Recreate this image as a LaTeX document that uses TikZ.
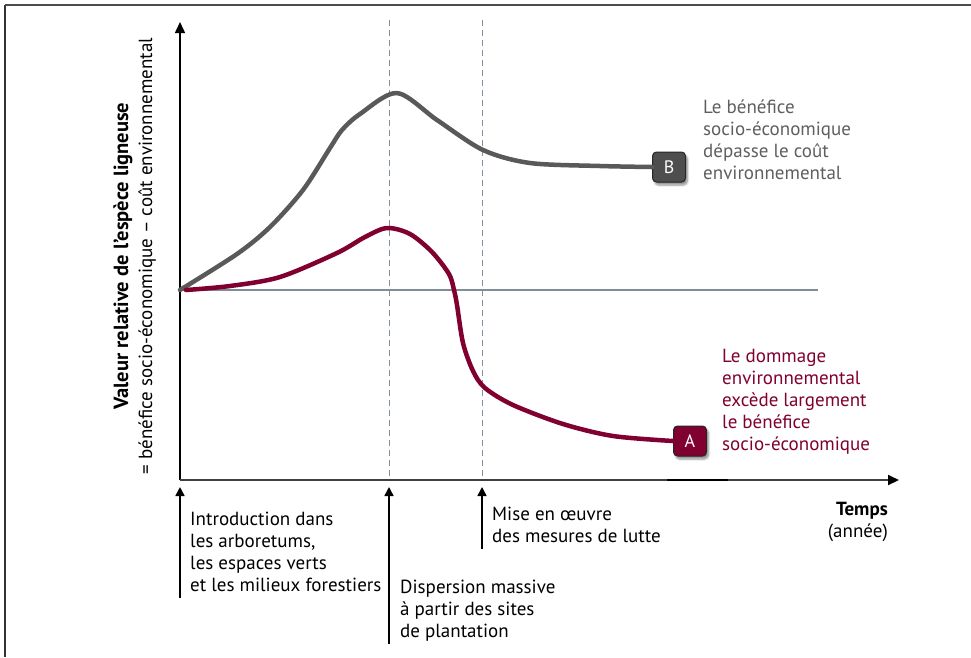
\documentclass[tikz,border=0pt]{standalone}
\usepackage{fontspec}
\setmainfont{PT Sans}
\usetikzlibrary{arrows.meta,shadows.blur}
\definecolor{curvegray}{RGB}{88,89,88}
\definecolor{curvered}{RGB}{128,0,48}
\definecolor{basegray}{RGB}{128,140,150}
\definecolor{dashgray}{RGB}{130,145,160}
\definecolor{textgray}{RGB}{95,95,95}
\definecolor{boxgray}{RGB}{78,78,78}
\tikzset{
  lbl/.style={font=\fontsize{19}{22}\selectfont, align=left, inner sep=0pt},
  letterbox/.style={draw=black!85, line width=1pt, rounded corners=4pt, minimum width=33pt, minimum height=30pt,
    text=white, font=\fontsize{18}{18}\selectfont, blur shadow={shadow xshift=2pt, shadow yshift=-3pt, shadow blur steps=6, shadow opacity=45}},
  eventarrow/.style={line width=1.6pt, -{Triangle[length=9pt,width=9pt]}},
  curve/.style={line width=4.5pt, line cap=round, line join=round},
}
\begin{document}
\begin{tikzpicture}[x=1pt,y=-1pt]
\useasboundingbox (0,0) rectangle (971,657);
% frame
\draw[black!80, line width=2pt] (5,657) -- (5,5);
\draw[black!70, line width=2pt] (5,5) -- (971,5);
% coordinates
\coordinate (O) at (180,480);
\coordinate (Ytop) at (180,22);
\coordinate (Xend) at (899,480);
\coordinate (S) at (180,290);
\coordinate (Send) at (818,290);
\coordinate (D1t) at (389,20);
\coordinate (D1b) at (389,480);
\coordinate (D2t) at (482,20);
\coordinate (D2b) at (482,480);
% dashed lines
\draw[dashgray, line width=1pt, dash pattern=on 6pt off 4pt] (D1t) -- (D1b);
\draw[dashgray, line width=1pt, dash pattern=on 6pt off 4pt] (D2t) -- (D2b);
% baseline
\draw[basegray, line width=2.5pt] (S) -- (Send);
% axes
\draw[black, line width=1.5pt, -{Triangle[length=11pt,width=10pt]}] (O) -- (Ytop);
\draw[black!75, line width=2pt, -{Triangle[length=11pt,width=10pt,black]}] (O) -- (Xend);
\coordinate (K1) at (667,480);
\coordinate (K2) at (728,480);
\draw[black, line width=2.5pt] (K1) -- (K2);
% boxes
\node[letterbox, fill=boxgray] (B) at (669,167) {B};
\node[letterbox, fill=curvered] (A) at (690,441) {A};
% curves
\draw[curve, curvegray] plot[smooth, tension=0.5] coordinates {(S) (237,254) (270,227) (303,190) (330,148) (342,130) (360,114) (397,93) (437,120) (483,150) (530,163) (600,166) (B.west)};
\draw[curve, curvered] plot[smooth, tension=0.5] coordinates {(186,290) (230,286) (280,277) (337,253) (365,237) (387,228) (410,234) (432,252) (449,274) (454,290) (457,305) (463,343) (473,371) (485,388) (513,405) (563,424) (613,436) (A.west)};
% texts B, A
\node[lbl, text=textgray, anchor=north west] (TB) at (703,100) {Le bénéfice\\socio-économique\\dépasse le coût\\environnemental};
\node[lbl, text=curvered, anchor=north west] (TA) at (722,349) {Le dommage\\environnemental\\excède largement\\le bénéfice\\socio-économique};
% event arrows
\coordinate (E1b) at (180,598);
\coordinate (E1t) at (180,487);
\coordinate (E2b) at (389,644);
\coordinate (E2t) at (389,487);
\coordinate (E3b) at (482,549);
\coordinate (E3t) at (482,487);
\draw[eventarrow] (E1b) -- (E1t);
\draw[eventarrow] (E2b) -- (E2t);
\draw[eventarrow] (E3b) -- (E3t);
\node[lbl, anchor=north west] (L1) at (190,512) {Introduction dans\\les arboretums,\\les espaces verts\\et les milieux forestiers};
\node[lbl, anchor=north west] (L2) at (400,580) {Dispersion massive\\à partir des sites\\de plantation};
\node[lbl, anchor=north west] (L3) at (492,507) {Mise en œuvre\\des mesures de lutte};
\node[lbl, anchor=north east, align=right] (T) at (888,502) {\textbf{Temps}\\(année)};
% y label
\node[inner sep=0pt, rotate=90, font=\bfseries\fontsize{20.5}{22}\selectfont] (Y1) at (123,256) {Valeur relative de l’espèce ligneuse};
\node[inner sep=0pt, rotate=90, font=\fontsize{19}{22}\selectfont] (Y2) at (147,256) {= bénéfice socio-économique – coût environnemental};
\end{tikzpicture}
\end{document}
